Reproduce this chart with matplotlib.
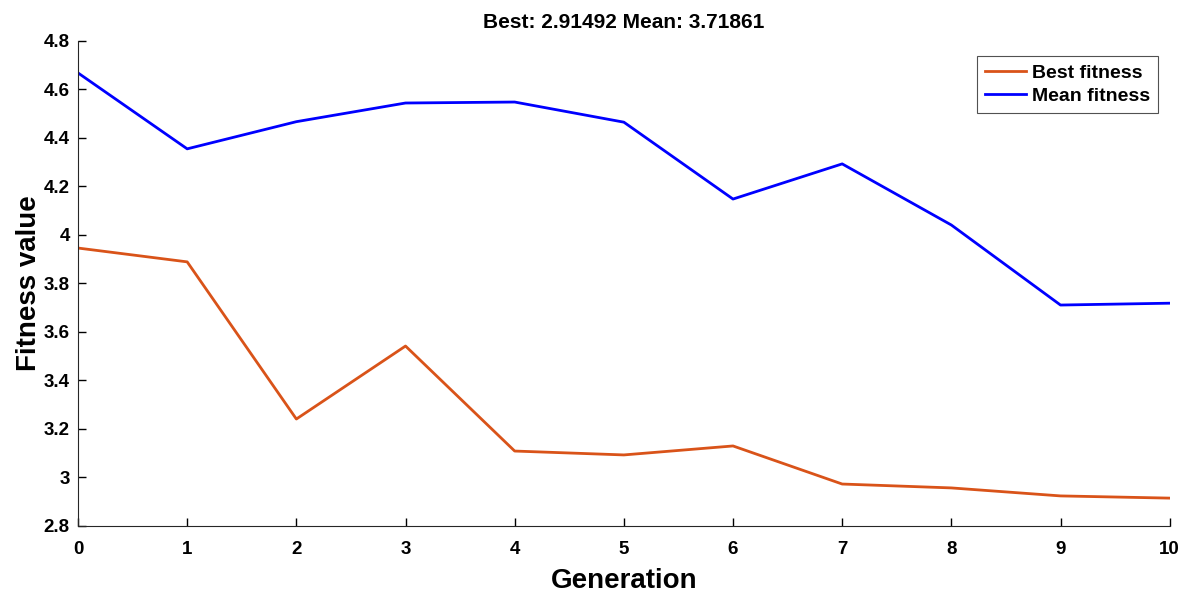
import matplotlib
matplotlib.use("Agg")
import matplotlib.pyplot as plt

generations = [0, 1, 2, 3, 4, 5, 6, 7, 8, 9, 10]
best_fitness = [3.946, 3.889, 3.241, 3.542, 3.109, 3.093, 3.130, 2.973, 2.957, 2.924, 2.91492]
mean_fitness = [4.668, 4.355, 4.467, 4.544, 4.548, 4.465, 4.148, 4.293, 4.041, 3.711, 3.71861]
y_ticks = [2.8, 3.0, 3.2, 3.4, 3.6, 3.8, 4.0, 4.2, 4.4, 4.6, 4.8]
y_tick_labels = ["2.8", "3", "3.2", "3.4", "3.6", "3.8", "4", "4.2", "4.4", "4.6", "4.8"]

plt.rcParams['font.family'] = ['Liberation Sans', 'DejaVu Sans']
plt.rcParams['font.weight'] = 'bold'

fig = plt.figure(figsize=(11.84, 5.93), dpi=100)
ax = fig.add_axes([0.0659, 0.113, 0.922, 0.818])

ax.plot(generations, best_fitness, color='#D95319', lw=2, label='Best fitness')
ax.plot(generations, mean_fitness, color='#0000FF', lw=2, label='Mean fitness')

ax.set_xlim(0, 10)
ax.set_ylim(2.8, 4.8)
ax.set_xticks(generations)
ax.set_yticks(y_ticks)
ax.set_yticklabels(y_tick_labels)
ax.tick_params(direction='in', length=6, width=1, labelsize=13.5)
ax.tick_params(axis='x', pad=11)
ax.tick_params(axis='y', pad=6)
for lab in ax.get_xticklabels() + ax.get_yticklabels():
    lab.set_fontweight('bold')
ax.spines['top'].set_visible(False)
ax.spines['right'].set_visible(False)
ax.spines['left'].set_color('#262626')
ax.spines['bottom'].set_color('#262626')

ax.set_xlabel('Generation', fontsize=20, fontweight='bold', labelpad=7)
ax.set_ylabel('Fitness value', fontsize=20, fontweight='bold', labelpad=1)
ax.set_title('Best: 2.91492 Mean: 3.71861', fontsize=15, fontweight='bold', pad=9)

leg = ax.legend(loc='upper right', bbox_to_anchor=(0.9945, 0.98), fontsize=14, frameon=True,
                fancybox=False, edgecolor='#262626', borderpad=0.4, handlelength=2.1,
                handletextpad=0.3, labelspacing=0.3, borderaxespad=0.3)
leg.get_frame().set_linewidth(0.8)
for t in leg.get_texts():
    t.set_fontweight('bold')

fig.savefig('out.png', dpi=100)
